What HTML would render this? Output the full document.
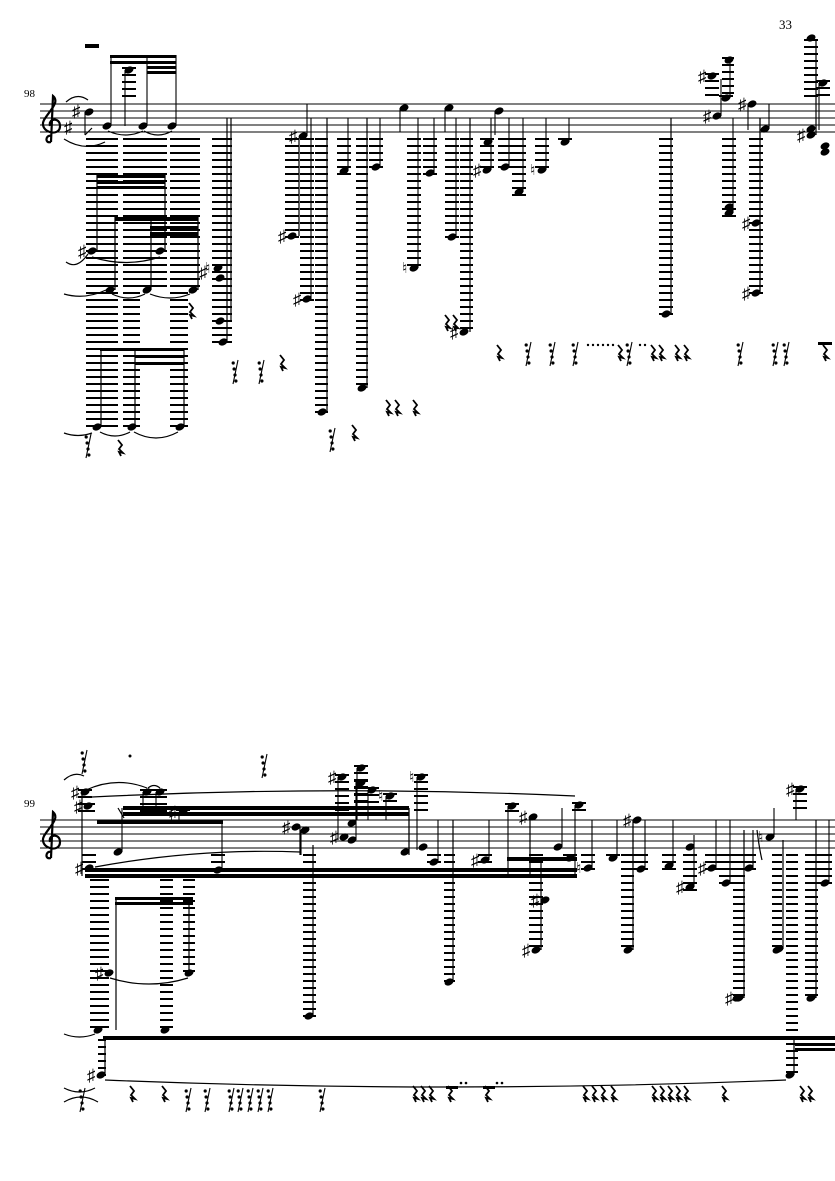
<!DOCTYPE html>
<html><head><meta charset="utf-8"><style>
html,body{margin:0;padding:0;background:#fff;width:835px;height:1181px;overflow:hidden}
svg{display:block}
text{font-family:"Liberation Serif",serif;fill:#000}
</style></head><body>
<svg id="s" width="835" height="1181" viewBox="0 0 835 1181" xmlns="http://www.w3.org/2000/svg">
<text x="779" y="29" font-size="13">33</text>
<text x="24" y="97" font-size="11">98</text>
<text x="24" y="807" font-size="11">99</text>
<g id="g"></g>
</svg>
<script>
var o=[];
function L(a,b,c,d,w){o.push('<line x1="'+a+'" y1="'+b+'" x2="'+c+'" y2="'+d+'" stroke="#000" stroke-width="'+(w||1.2)+'"/>');}
function R(x,y,w,h){o.push('<rect x="'+x+'" y="'+y+'" width="'+w+'" height="'+h+'"/>');}
function H(x,y){o.push('<ellipse cx="'+x+'" cy="'+y+'" rx="4.7" ry="3.3" transform="rotate(-25 '+x+' '+y+')"/>');}
function SH(x,y){o.push('<text x="'+(x-14)+'" y="'+(y+6)+'" font-size="17" font-family="DejaVu Sans">♯</text>');}
function NA(x,y){o.push('<text x="'+(x-12)+'" y="'+(y+5)+'" font-size="15" font-family="DejaVu Sans">♮</text>');}
function led(x1,x2,y0,y1){for(var y=y0;y<=y1+1;y+=7)L(x1,y,x2,y,2);}
function staff(T){for(var i=0;i<5;i++)L(40,T+i*7,835,T+i*7,1);}
function N(T,x,y,se,acc){H(x,y);
 if(y>T+32)led(x-7,x+7,T+35,y+2);
 if(y<T-4)led(x-7,x+7,y-2,T-7); 
 if(se!=null){ if(se<y)L(x+4,y,x+4,se,1.1); else L(x-4,y,x-4,se,1.1);}
 if(acc=='s')SH(x,y); if(acc=='n')NA(x,y);}
function rest(x,y){o.push('<path d="M'+x+' '+(y-7)+' l4 5 l-3 4 l4 4 l-4 -1 l2 4" fill="none" stroke="#000" stroke-width="1.8"/>');}
function r64(x,y){L(x,y+12,x+5,y-12,1.1);for(var i=0;i<4;i++)o.push('<circle cx="'+(x+2.2-i*-0.9-2)+'" cy="'+(y-9+i*6)+'" r="1.6"/>');}
function slur(x1,y1,x2,y2,c){o.push('<path d="M'+x1+' '+y1+' Q'+((x1+x2)/2)+' '+c+' '+x2+' '+y2+'" fill="none" stroke="#000" stroke-width="1.2"/>');}
function clef(x,T){o.push('<path d="M'+(x+9)+' '+(T+38)+' C'+(x+2)+' '+(T+40)+' '+(x+4)+' '+(T+30)+' '+(x+9)+' '+(T+32)+' M'+(x+9)+' '+(T+38)+' L'+(x+11)+' '+(T-8)+' C'+(x+18)+' '+(T-2)+' '+(x+8)+' '+(T+6)+' '+(x+2)+' '+(T+16)+' C'+(x-4)+' '+(T+28)+' '+(x+18)+' '+(T+34)+' '+(x+18)+' '+(T+22)+' C'+(x+18)+' '+(T+13)+' '+(x+6)+' '+(T+14)+' '+(x+8)+' '+(T+22)+'" fill="none" stroke="#000" stroke-width="2.2"/>');}

/* ===== SYSTEM 1 ===== */
var T=104;staff(T);clef(42,T);
SH(78,127);SH(86,111);
N(T,89,112,135);L(85,135,92,128,1.2);
slur(66,102,88,100,92);slur(64,139,105,142,152);
R(85,44,14,4);
N(T,107,126,55);N(T,143,126,55);N(T,172,126,55);
R(110,55,66,3);R(110,61,66,3);R(147,66,29,3);R(147,71,29,3);
N(T,129,70,126);
slur(108,131,143,131,139);slur(144,131,172,131,139);
led(86,118,139,425);led(123,140,139,425);led(140,167,139,290);led(170,188,139,425);led(188,200,139,290);
R(97,175,68,3);R(97,181,68,3);R(97,186,68,3);
L(97,175,97,251);L(165,175,165,251);
R(115,217,83,4);R(150,226,48,3);R(150,232,48,4);
L(115,217,115,290);L(151,217,151,290);L(198,217,198,290);
H(92,251);SH(92,251);H(160,251);slur(92,257,160,257,268);slur(66,262,88,254,270);
H(110,290);H(147,290);H(193,290);slur(64,294,106,290,300);slur(112,294,145,294,302);slur(150,294,190,294,302);
rest(189,310);
R(100,348,84,3);R(135,355,49,3);R(135,362,49,3);
L(101,348,101,427);L(135,348,135,427);L(184,348,184,427);
H(97,427);H(132,427);H(180,427);slur(100,432,130,432,440);slur(134,432,178,432,444);slur(64,433,92,433,438);
r64(86,446);rest(118,447);
led(212,232,139,342);H(218,268);NA(217,268);SH(213,272);H(220,278);H(220,321);H(223,342);L(227,118,227,342);L(231,118,231,321);
r64(233,372);r64(259,372);rest(280,362);
N(T,303,136,104,'s');N(T,292,236,null,'s');L(299,236,299,139);
N(T,307,299,118,'s');
led(315,328,139,412);H(322,412);L(327,118,327,412);
N(T,344,171,118);
led(356,368,139,388);H(362,388);L(367,118,367,388);
N(T,376,167,118);
N(T,404,108,132);
N(T,414,268,118,'n');
N(T,430,173,118);
N(T,449,108,132);
N(T,452,237,118);
led(460,473,139,332);H(464,332);SH(464,332);L(470,118,470,332);
rest(445,322);rest(453,322);
N(T,499,111,135);
N(T,487,170,118,'s');H(488,142);
N(T,505,167,118);
N(T,519,192,118);
N(T,542,170,118,'n');
N(T,565,142,118);
led(659,673,139,314);H(666,314);L(671,118,671,314);
N(T,717,116,79,'s');N(T,712,76,null,'s');N(T,726,98,60);H(729,60);led(722,734,58,97);
N(T,729,213,118);H(729,207);
N(T,752,104,130,'s');
N(T,765,129,104);
N(T,756,223,null,'s');N(T,756,293,118,'s');L(760,118,760,293);
led(804,818,40,97);H(811,135);SH(811,135);H(811,129);L(816,40,816,135);H(811,38);
N(T,823,83,130);H(825,146);H(825,152);
rest(497,352);r64(526,354);r64(550,354);r64(573,354);
for(var i=0;i<6;i++)o.push('<circle cx="'+(588+i*5)+'" cy="345" r="1.2"/>');
rest(618,352);r64(627,354);o.push('<circle cx="640" cy="345" r="1.2"/><circle cx="645" cy="345" r="1.2"/>');
rest(651,352);rest(659,352);rest(675,352);rest(684,352);
r64(738,354);r64(773,354);r64(784,354);R(818,342,14,3);rest(823,352);
r64(330,440);rest(352,432);rest(386,407);rest(395,407);rest(413,407);

/* ===== SYSTEM 2 ===== */
T=820;staff(T);clef(42,T);
r64(82,762);o.push('<circle cx="130" cy="756" r="1.5"/>');r64(262,766);
slur(64,780,84,776,771);
N(T,85,792,null,'s');N(T,88,806,null,'s');L(82,790,82,876);
N(T,89,868,null,'s');
N(T,118,852,808);L(118,808,124,818,1.2);
N(T,147,792,808);N(T,160,792,808);slur(86,790,147,788,776);slur(148,788,160,788,783);
N(T,183,812,820,'s');
N(T,218,870,820);
R(97,820,126,4);R(123,806,286,4);R(123,812,286,4);
R(85,868,492,4);R(85,874,492,4);R(507,857,70,4);
slur(92,797,575,796,785);
slur(95,867,300,852,848);
led(90,109,880,1030);led(160,173,880,1030);led(183,195,880,973);
R(115,897,78,3);R(115,902,78,3);L(116,897,116,1030);L(189,897,189,973);
H(109,973);SH(109,973);H(189,973);slur(110,978,188,978,990);
H(98,1030);H(165,1030);slur(64,1034,95,1034,1040);
N(T,296,827,null,'s');N(T,305,830,855);L(300,827,300,855);
led(303,316,855,1016);H(309,1016);L(313,845,313,1016);
N(T,342,777,840,'s');N(T,344,837,null,'s');N(T,352,840,780);N(T,352,823);
N(T,361,768,820);N(T,361,783);N(T,372,790,820);N(T,390,796,820,'n');
N(T,405,852,808);L(409,808,409,855);
N(T,421,777,850,'n');N(T,423,847);
N(T,434,862,820);
led(444,455,855,982);H(449,982);L(453,820,453,982);
N(T,485,860,820,'s');
N(T,512,806,875);
N(T,533,817,null,'s');L(530,817,530,875);
led(529,543,855,950);H(545,900);SH(545,900);H(536,950);SH(536,950);L(541,860,541,950);
N(T,558,847,808);N(T,579,805,877);N(T,570,858);
N(T,588,868,820,'n');N(T,613,858,820);
N(T,637,820,867,'s');N(T,641,869,820);
led(621,634,855,950);H(628,950);L(633,820,633,950);
N(T,669,866,820);N(T,690,847,null);N(T,690,887,835,'s');
N(T,712,868,820,'s');N(T,726,883,820);N(T,749,868,830);
led(733,745,855,998);H(739,998);SH(739,998);L(744,830,744,998);
slur(757,830,762,860,850);
N(T,770,837,808,'n');
led(772,782,855,949);H(779,949);L(783,840,783,949);
led(786,798,855,1075);
N(T,800,789,820,'s');
led(805,818,855,998);H(811,998);L(816,820,816,998);
N(T,825,883,820);
H(777,950);H(737,998);H(811,998);
R(103,1036,732,4);R(795,1043,40,3);R(795,1048,40,3);
led(98,106,1040,1075);H(101,1075);SH(101,1075);L(105,1038,105,1075);
H(790,1075);L(794,1038,794,1075);
slur(105,1080,786,1080,1094);slur(64,1088,95,1088,1096);slur(64,1102,98,1102,1092);
r64(80,1100);
var rs=[130,162,413,421,429,448,485,583,592,601,611,652,660,668,676,684,722,800,808];
rs.forEach(function(x){rest(x,1093);});
[186,205,229,238,248,258,268,320].forEach(function(x){r64(x,1100);});
R(446,1086,12,3);R(483,1086,12,3);
o.push('<circle cx="461" cy="1083" r="1.3"/><circle cx="466" cy="1083" r="1.3"/><circle cx="497" cy="1083" r="1.3"/><circle cx="502" cy="1083" r="1.3"/>');
document.getElementById('g').innerHTML=o.join('');
</script>
</body></html>
